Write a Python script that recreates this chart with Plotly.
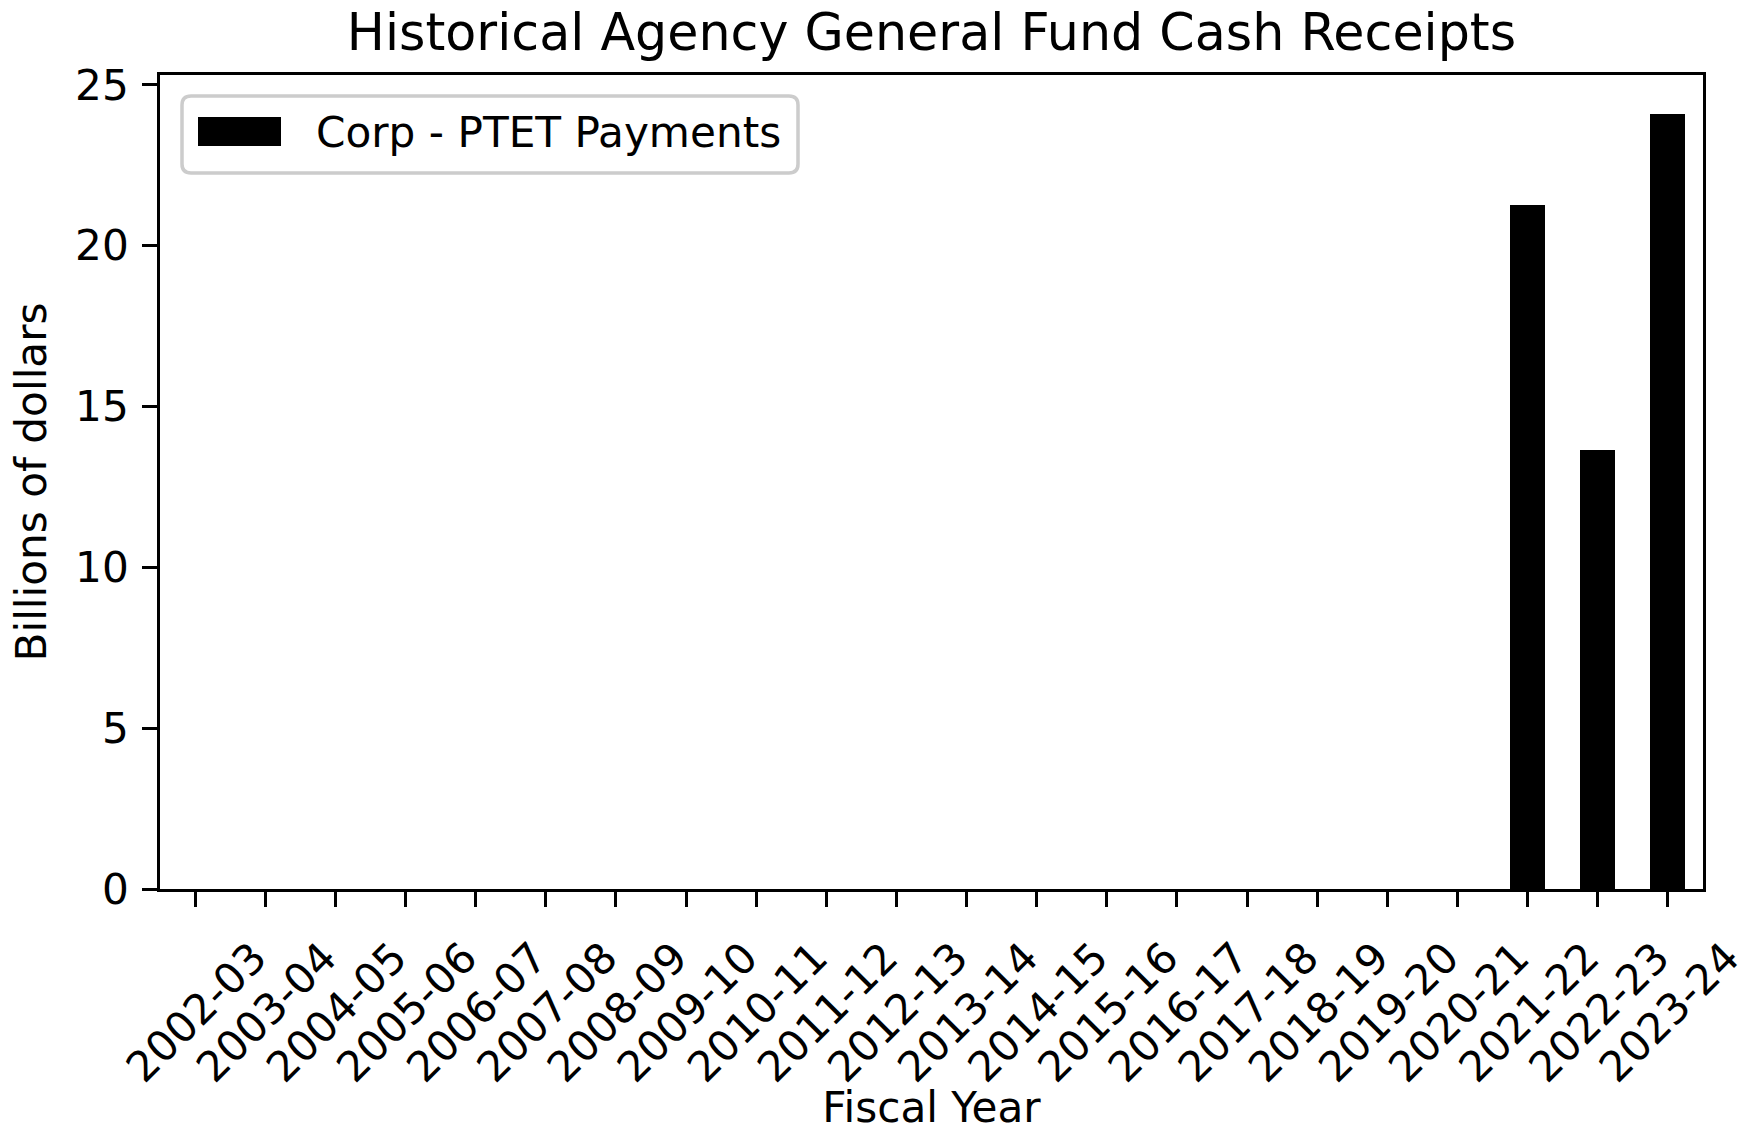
import plotly.graph_objects as go

# Fiscal years on the category axis
fiscal_years = [
    "2002-03", "2003-04", "2004-05", "2005-06", "2006-07", "2007-08",
    "2008-09", "2009-10", "2010-11", "2011-12", "2012-13", "2013-14",
    "2014-15", "2015-16", "2016-17", "2017-18", "2018-19", "2019-20",
    "2020-21", "2021-22", "2022-23", "2023-24",
]

# Corp - PTET payments, billions of dollars
series_name = "Corp - PTET Payments"
ptet_payments = [
    0, 0, 0, 0, 0, 0, 0, 0, 0, 0, 0, 0, 0, 0, 0, 0, 0, 0, 0,
    21.26, 13.66, 24.10,
]

y_ticks = [0, 5, 10, 15, 20, 25]

FONT = "DejaVu Sans"
TXT = 42.2      # ~10 pt at 300 dpi
TITLE = 50.7    # ~12 pt at 300 dpi
LW = 3.3        # 0.8 pt spine / tick width
TL = 14.6       # 3.5 pt tick length

W, H = 1754, 1132
ML, MR, MT, MB = 160, 51, 75, 243

fig = go.Figure()
fig.add_trace(go.Bar(
    x=list(range(len(fiscal_years))),
    y=ptet_payments,
    width=0.5,
    marker=dict(color="black", line=dict(width=0)),
    name=series_name,
    showlegend=False,
))

# Legend frame (rounded box anchored to the top-left corner of the axes, pixel offsets)
r = 9
x0, x1, yt, yb = 22, 638, -21, -98
frame = (f"M{x0 + r},{yt} L{x1 - r},{yt} Q{x1},{yt} {x1},{yt - r} "
         f"L{x1},{yb + r} Q{x1},{yb} {x1 - r},{yb} L{x0 + r},{yb} "
         f"Q{x0},{yb} {x0},{yb + r} L{x0},{yt - r} Q{x0},{yt} {x0 + r},{yt} Z")
fig.add_shape(type="path", path=frame, xref="paper", yref="paper",
              xsizemode="pixel", ysizemode="pixel", xanchor=0, yanchor=1,
              line=dict(color="#cccccc", width=3.5),
              fillcolor="rgba(255,255,255,0.8)", layer="above")
fig.add_shape(type="rect", xref="paper", yref="paper",
              xsizemode="pixel", ysizemode="pixel", xanchor=0, yanchor=1,
              x0=38, x1=121, y0=-42, y1=-71,
              line=dict(width=0), fillcolor="black", layer="above")
fig.add_annotation(text=series_name, xref="paper", yref="paper",
                   x=(314 - ML) / (W - ML - MR), y=(H - MB - 132) / (H - MB - MT),
                   xanchor="left", yanchor="middle", showarrow=False,
                   font=dict(family=FONT, size=TXT, color="black"))

fig.update_layout(
    width=W, height=H,
    margin=dict(l=ML, r=MR, t=MT, b=MB, pad=0),
    paper_bgcolor="white", plot_bgcolor="white",
    font=dict(family=FONT, size=TXT, color="black"),
    title=dict(text="Historical Agency General Fund Cash Receipts",
               x=(ML + (W - ML - MR) / 2) / W, xanchor="center",
               y=1 - 32 / H, yanchor="middle",
               font=dict(family=FONT, size=TITLE, color="black")),
    bargap=0,
    showlegend=False,
)

fig.update_xaxes(
    range=[-0.5, len(fiscal_years) - 0.5],
    tickmode="array",
    tickvals=list(range(len(fiscal_years))),
    ticktext=fiscal_years,
    tickangle=-45,
    ticklabelshift=59,
    ticklabelstandoff=9,
    ticks="outside", ticklen=TL, tickwidth=LW, tickcolor="black",
    showline=True, linecolor="black", linewidth=LW, mirror=True,
    showgrid=False, zeroline=False,
    title=dict(text="Fiscal Year", standoff=6,
               font=dict(family=FONT, size=TXT, color="black")),
    automargin=False,
)

fig.update_yaxes(
    range=[0, max(ptet_payments) * 1.05],
    tickmode="array", tickvals=y_ticks,
    ticks="outside", ticklen=TL, tickwidth=LW, tickcolor="black",
    ticklabelstandoff=5,
    showline=True, linecolor="black", linewidth=LW, mirror=True,
    showgrid=False, zeroline=False,
    title=dict(text="Billions of dollars", standoff=16,
               font=dict(family=FONT, size=TXT, color="black")),
    automargin=False,
)

fig.write_html("out.html")
